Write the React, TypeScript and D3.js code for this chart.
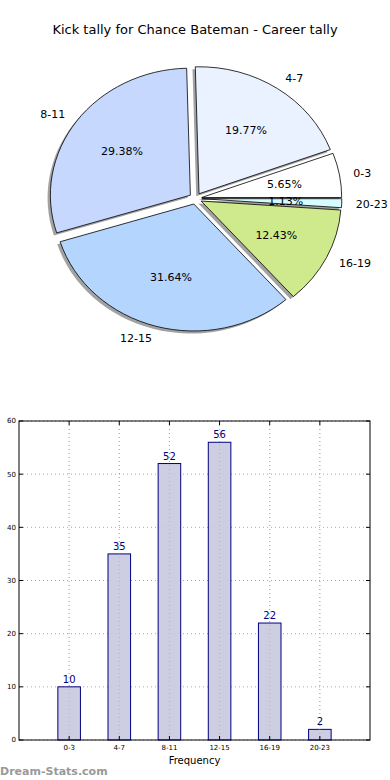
import React, { useRef, useEffect } from 'react';
import * as d3 from 'd3';

const title = 'Kick tally for Chance Bateman - Career tally';
const categories = ['0-3', '4-7', '8-11', '12-15', '16-19', '20-23'];
const counts = [10, 35, 52, 56, 22, 2];
const sliceColors = ['#ffffff', '#eaf1ff', '#c6d8fe', '#b4d5fe', '#cfea8c', '#d5fcff'];
const yTicks = [0, 10, 20, 30, 40, 50, 60];

const W = 390;
const H = 780;

function App() {
    const ref = useRef<SVGSVGElement | null>(null);

    useEffect(() => {
        const svg = d3.select(ref.current);
        svg.selectAll('*').remove();
        const font = 'DejaVu Sans, sans-serif';

        svg.append('rect').attr('width', W).attr('height', H).attr('fill', '#fff');

        svg.append('text')
            .attr('x', 195).attr('y', 34)
            .attr('text-anchor', 'middle')
            .style('font-family', font).style('font-size', '13px')
            .text(title);

        // ---- pie (elliptical, like matplotlib in non-square axes) ----
        const cx = 195.5, cy = 198.5;
        const rx = 140, ry = 127;
        const k = ry / rx;
        const explode = 0.045 * rx;
        const total = d3.sum(counts);

        // matplotlib: start at 3 o'clock, counterclockwise
        const pie = d3.pie<number>().sort(null).value(d => d)
            .startAngle(Math.PI / 2).endAngle(Math.PI / 2 - 2 * Math.PI);
        const arcs = pie(counts);
        const arc = d3.arc<d3.PieArcDatum<number>>().innerRadius(0).outerRadius(rx);

        const pieG = svg.append('g').attr('transform', `translate(${cx},${cy}) scale(1,${k})`);
        const offs = arcs.map(a => {
            const m = (a.startAngle + a.endAngle) / 2;
            return { m, dx: explode * Math.sin(m), dy: -explode * Math.cos(m) };
        });

        // shadows first
        pieG.selectAll('path.shadow')
            .data(arcs)
            .enter().append('path')
            .attr('class', 'shadow')
            .attr('d', arc)
            .attr('transform', (d, i) => `translate(${offs[i].dx - 0.02 * rx},${offs[i].dy + 0.02 * rx})`)
            .attr('fill', '#555')
            .attr('fill-opacity', 0.55);

        pieG.selectAll('path.wedge')
            .data(arcs)
            .enter().append('path')
            .attr('class', 'wedge')
            .attr('d', arc)
            .attr('transform', (d, i) => `translate(${offs[i].dx},${offs[i].dy})`)
            .attr('fill', (d, i) => sliceColors[i])
            .attr('stroke', '#000')
            .attr('stroke-width', 0.8)
            .attr('vector-effect', 'non-scaling-stroke');

        arcs.forEach((a, i) => {
            const { m, dx, dy } = offs[i];
            const ox = cx + dx, oy = cy + dy * k;
            const lx = ox + 1.1 * rx * Math.sin(m);
            const ly = oy - 1.1 * ry * Math.cos(m);
            svg.append('text')
                .attr('x', lx).attr('y', ly)
                .attr('dy', '0.35em')
                .attr('text-anchor', Math.sin(m) > 0 ? 'start' : 'end')
                .style('font-family', font).style('font-size', '11px')
                .text(categories[i]);
            const px = ox + 0.6 * rx * Math.sin(m);
            const py = oy - 0.6 * ry * Math.cos(m);
            svg.append('text')
                .attr('x', px).attr('y', py)
                .attr('dy', '0.35em')
                .attr('text-anchor', 'middle')
                .style('font-family', font).style('font-size', '11px')
                .text(`${(counts[i] / total * 100).toFixed(2)}%`);
        });

        // ---- bar chart ----
        const left = 19, right = 370, top = 421, bottom = 740;
        const x = d3.scaleLinear().domain([-1, 6]).range([left, right]);
        const y = d3.scaleLinear().domain([0, 60]).range([bottom, top]);
        const barW = x(0.45) - x(0);
        const bg = svg.append('g');

        // grid
        bg.selectAll('line.gy').data(yTicks).enter().append('line')
            .attr('x1', left).attr('x2', right)
            .attr('y1', d => y(d)).attr('y2', d => y(d))
            .attr('stroke', '#aaa').attr('stroke-width', 1)
            .attr('stroke-dasharray', '1,3');
        bg.selectAll('line.gx').data(categories).enter().append('line')
            .attr('x1', (d, i) => x(i)).attr('x2', (d, i) => x(i))
            .attr('y1', top).attr('y2', bottom)
            .attr('stroke', '#aaa').attr('stroke-width', 1)
            .attr('stroke-dasharray', '1,3');

        bg.selectAll('rect.bar').data(counts).enter().append('rect')
            .attr('x', (d, i) => x(i) - barW / 2)
            .attr('y', d => y(d))
            .attr('width', barW)
            .attr('height', d => bottom - y(d))
            .attr('fill', '#c9c9e0')
            .attr('fill-opacity', 0.9)
            .attr('stroke', '#000080')
            .attr('stroke-width', 1);

        // redraw vertical grid over bars (matplotlib grid on top here)
        bg.selectAll('line.gx2').data(categories).enter().append('line')
            .attr('x1', (d, i) => x(i)).attr('x2', (d, i) => x(i))
            .attr('y1', top).attr('y2', bottom)
            .attr('stroke', '#aaa').attr('stroke-width', 1)
            .attr('stroke-dasharray', '1,3')
            .attr('stroke-opacity', 0.6);

        bg.selectAll('text.val').data(counts).enter().append('text')
            .attr('x', (d, i) => x(i))
            .attr('y', d => y(d) - 4)
            .attr('text-anchor', 'middle')
            .attr('fill', '#000080')
            .style('font-family', font).style('font-size', '10px')
            .text(d => d);

        // frame
        bg.append('rect')
            .attr('x', left).attr('y', top)
            .attr('width', right - left).attr('height', bottom - top)
            .attr('fill', 'none').attr('stroke', '#000').attr('stroke-width', 1);

        // ticks (inside, both sides)
        yTicks.forEach(t => {
            bg.append('line').attr('x1', left).attr('x2', left + 4).attr('y1', y(t)).attr('y2', y(t)).attr('stroke', '#000');
            bg.append('line').attr('x1', right - 4).attr('x2', right).attr('y1', y(t)).attr('y2', y(t)).attr('stroke', '#000');
            bg.append('text')
                .attr('x', left - 3).attr('y', y(t)).attr('dy', '0.35em')
                .attr('text-anchor', 'end')
                .style('font-family', font).style('font-size', '7px')
                .text(t);
        });
        categories.forEach((c, i) => {
            bg.append('line').attr('x1', x(i)).attr('x2', x(i)).attr('y1', bottom).attr('y2', bottom - 4).attr('stroke', '#000');
            bg.append('line').attr('x1', x(i)).attr('x2', x(i)).attr('y1', top).attr('y2', top + 4).attr('stroke', '#000');
            bg.append('text')
                .attr('x', x(i)).attr('y', bottom + 10)
                .attr('text-anchor', 'middle')
                .style('font-family', font).style('font-size', '7px')
                .text(c);
        });

        bg.append('text')
            .attr('x', (left + right) / 2).attr('y', 764)
            .attr('text-anchor', 'middle')
            .style('font-family', font).style('font-size', '10px')
            .text('Frequency');

        svg.append('text')
            .attr('x', 0).attr('y', 775)
            .attr('fill', '#999')
            .style('font-family', 'DejaVu Sans, sans-serif')
            .style('font-size', '11px').style('font-weight', 'bold')
            .text('Dream-Stats.com');
    }, []);

    return (
        <svg ref={ref} width={W} height={H}
             style={{ position: 'absolute', left: 0, top: 0, display: 'block' }} />
    );
}

export default App;
